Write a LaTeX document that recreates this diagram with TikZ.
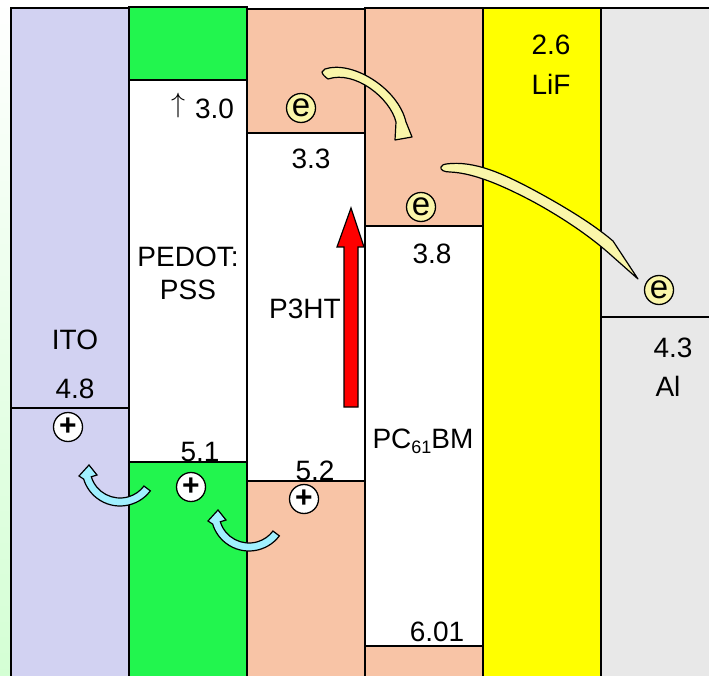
\documentclass[tikz,border=0pt]{standalone}
\usepackage{fontspec}
\setmainfont{Liberation Sans}
\usetikzlibrary{calc}
\definecolor{itoC}{RGB}{210,210,242}
\definecolor{pedotC}{RGB}{34,245,78}
\definecolor{salC}{RGB}{248,196,166}
\definecolor{lifC}{RGB}{255,255,0}
\definecolor{alC}{RGB}{232,232,232}
\definecolor{eyel}{RGB}{250,246,170}
\definecolor{cyanC}{RGB}{160,240,255}
\definecolor{bgG}{RGB}{212,255,212}
\begin{document}
\begin{tikzpicture}[x=1pt,y=-1pt,
  layer/.style={draw=black,line width=1.4pt},
  lbl/.style={inner sep=0pt,anchor=base,font=\fontsize{28}{32}\selectfont},
  particle/.style={circle,draw=black,line width=1.3pt,minimum size=29pt,inner sep=0pt},
  elec/.style={particle,fill=eyel,font=\fontsize{33}{33}\selectfont},
  hole/.style={particle,fill=white,font=\fontsize{30}{30}\selectfont\bfseries},
  yarrow/.style={draw=black,fill=eyel,line width=1.2pt,line join=round},
  carrow/.style={draw=black,fill=cyanC,line width=1.2pt,line join=miter}]
\useasboundingbox (0,0) rectangle (709,676);
\shade[top color=white,bottom color=bgG] (0,0) rectangle (11,676);
% ITO
\filldraw[layer,fill=itoC] (11,8) rectangle (129,700);
\draw[layer] (11,408) -- (129,408);
% PEDOT:PSS
\filldraw[layer,fill=white] (129,7) rectangle (247,700);
\filldraw[layer,fill=pedotC] (129,7) rectangle (247,80);
\filldraw[layer,fill=pedotC] (129,462) rectangle (247,700);
% P3HT
\filldraw[layer,fill=white] (247,9) rectangle (365,700);
\filldraw[layer,fill=salC] (247,9) rectangle (365,133);
\filldraw[layer,fill=salC] (247,481) rectangle (365,700);
% PC61BM
\filldraw[layer,fill=white] (365,8) rectangle (483,700);
\filldraw[layer,fill=salC] (365,8) rectangle (483,226);
\filldraw[layer,fill=salC] (365,646) rectangle (483,700);
% LiF
\filldraw[layer,fill=lifC] (483,8) rectangle (601,700);
% Al
\filldraw[layer,fill=alC] (601,8) rectangle (730,700);
\draw[layer] (601,317) -- (730,317);

% labels
\node[lbl] (tup) at (178,113) {\scalebox{1.125}{$\uparrow$}};
\node[lbl] (t30) at (214.5,119) {3.0};
\node[lbl] (t33) at (311,169) {3.3};
\node[lbl] (t26) at (551,55) {2.6};
\node[lbl] (tlif) at (551,95) {LiF};
\node[lbl] (t38) at (432,263) {3.8};
\node[lbl] (tpedot) at (188,266) {PEDOT:};
\node[lbl] (tpss) at (188,299) {PSS};
\node[lbl] (tp3ht) at (305,318) {P3HT};
\node[lbl] (tito) at (75,349) {ITO};
\node[lbl] (t48) at (75,398) {4.8};
\node[lbl] (t51) at (200,461) {5.1};
\node[lbl] (t52) at (315,480) {5.2};
\node[lbl] (tpcbm) at (423,448) {PC\raisebox{-5pt}{\fontsize{18}{18}\selectfont 61}BM};
\node[lbl] (t43) at (673,357) {4.3};
\node[lbl] (tal) at (668,396) {Al};
\node[lbl] (t601) at (437,641) {6.01};

% red arrow
\filldraw[draw=black,fill=red,line width=1.2pt,line join=miter]
  (344,407) -- (358,407) -- (358,247) -- (364,247) -- (351,208) -- (337,247) -- (344,247) -- cycle;

% yellow curved arrows
\filldraw[yarrow] (325,69) .. controls (352,60) and (398,88) .. (406,122)
  -- (412,137) -- (395,140) -- (396,122)
  .. controls (390,98) and (355,70) .. (328,79)
  .. controls (325,77) and (322,74) .. (322,72) -- cycle;
\filldraw[yarrow] (446,164) .. controls (475,160) and (505,175) .. (530,188)
  .. controls (560,204) and (592,223) .. (613,241) -- (638,279) -- (612,256)
  .. controls (590,236) and (560,216) .. (530,200)
  .. controls (505,187) and (475,173) .. (450,172)
  .. controls (444,172) and (440,170) .. (441,167)
  .. controls (442,165) and (444,164) .. (446,164) -- cycle;

% cyan curved arrows
\begin{scope}[shift={(120,468)}]
\filldraw[carrow] (37:38) arc[start angle=37,end angle=163,radius=38]
  -- (-41,8) -- (-31,-3) -- (-23,7) -- (163:30)
  arc[start angle=163,end angle=37,radius=30] -- cycle;
\end{scope}
\begin{scope}[shift={(249,513)}]
\filldraw[carrow] (37:38) arc[start angle=37,end angle=163,radius=38]
  -- (-41,8) -- (-31,-3) -- (-23,7) -- (163:30)
  arc[start angle=163,end angle=37,radius=30] -- cycle;
\end{scope}

% charges
\node[elec] (e1) at (301,108) {e};
\node[elec] (e2) at (421,207) {e};
\node[elec] (e3) at (659,290) {e};
\node[hole] (h1) at (68,427) {+};
\node[hole] (h2) at (191,487) {+};
\node[hole] (h3) at (304,499) {+};
\end{tikzpicture}
\end{document}
